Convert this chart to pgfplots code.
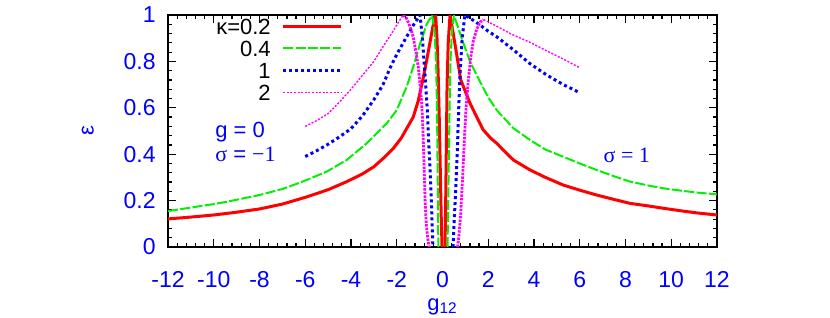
\documentclass[border=0pt]{standalone}
\usepackage{fontspec}
\setmainfont{Liberation Sans}
\newfontfamily\serif{Liberation Serif}
\usepackage{pgfplots}
\pgfplotsset{compat=1.18}
\definecolor{cblue}{RGB}{0,0,255}
\definecolor{cred}{RGB}{255,0,0}
\definecolor{cgreen}{RGB}{0,240,0}
\definecolor{cmag}{RGB}{255,0,255}
\begin{document}
\fontsize{11}{13}\selectfont
\begin{tikzpicture}
\path[use as bounding box] (-84pt,-35pt) rectangle (331pt,123.5pt);
\begin{axis}[
  scale only axis, width=274.5pt, height=116pt,
  at={(0,0)}, anchor=south west,
  xmin=-12, xmax=12, ymin=0, ymax=1,
  xtick={-12,-10,...,12},
  xticklabels={-12,-10,-8,-6,-4,-2,0,2,4,6,8,10,12},
  ytick={0,0.2,0.4,0.6,0.8,1},
  yticklabels={0,0.2,0.4,0.6,0.8,1},
  minor x tick num=4, minor y tick num=4,
  tick align=inside,
  major tick length=4pt, minor tick length=2pt,
  tick style={black, line width=0.6pt},
  axis line style={black, line width=0.75pt},
  tick label style={text=cblue, font=\fontsize{11.5}{13}\selectfont},
  xticklabel style={anchor=north, inner sep=0pt, yshift=-12pt},
  yticklabel style={anchor=east, inner sep=0pt, xshift=-6pt},
  xlabel={g\textsubscript{12}}, ylabel={ε},
  every axis x label/.style={at={(axis description cs:0.5,0)}, anchor=base, yshift=-31.5pt, text=cblue},
  every axis y label/.style={at={(axis description cs:-0.146,0.5)}, anchor=center, rotate=90, text=cblue},
  legend cell align=right, legend plot pos=right,
  legend image code/.code={\draw[#1] (0pt,0pt) -- (29pt,0pt);},
  legend style={at={(rel axis cs:0.319,1)}, anchor=north east, draw=none, fill=none,
    inner sep=0pt, row sep=0pt, column sep=4pt,
    nodes={inner sep=1.5pt, text height=8pt, text depth=0pt, font=\fontsize{11}{13}\selectfont}},
]
% kappa = 0.2
\addplot[cred, line width=1.5pt] coordinates {
(-12,0.121) (-11,0.129) (-10,0.138) (-9,0.150) (-8,0.164) (-7,0.185) (-6,0.214) (-5,0.247)
(-4.2,0.281) (-3.5,0.315) (-3,0.346) (-2.5,0.39) (-2.15,0.425) (-1.8,0.47) (-1.57,0.51)
(-1.28,0.56) (-1.06,0.63) (-0.84,0.73) (-0.7,0.8) (-0.55,0.88) (-0.42,0.95) (-0.3,1.0)
(-0.24,0.9) (-0.19,0.75) (-0.14,0.55) (-0.1,0.35) (-0.06,0.15) (-0.02,0)};
\addlegendentry{κ=0.2}
\addplot[cred, line width=1.5pt, forget plot] coordinates {
(0.11,0) (0.14,0.2) (0.17,0.45) (0.2,0.7) (0.25,0.88) (0.33,1.0) (0.47,0.92) (0.62,0.83)
(0.8,0.72) (1.0,0.67) (1.2,0.62) (1.5,0.56) (1.78,0.505) (2.1,0.47) (2.37,0.447) (2.8,0.404)
(3.1,0.375) (3.83,0.332) (4.5,0.30) (5.28,0.267) (6.0,0.245) (6.74,0.224) (7.5,0.205)
(8.2,0.188) (9.0,0.177) (9.65,0.167) (10.5,0.155) (11.2,0.146) (12,0.138)};
% kappa = 0.4
\addplot[cgreen, line width=1pt, dash pattern=on 5pt off 1.2pt] coordinates {
(-12,0.155) (-11,0.17) (-10,0.185) (-9.43,0.195) (-8,0.224) (-7,0.25) (-6.52,0.267)
(-5.94,0.289) (-5.06,0.325) (-4.19,0.375) (-3.31,0.447) (-2.44,0.533) (-2,0.59) (-1.57,0.69)
(-1.3,0.77) (-1.0,0.87) (-0.69,0.96) (-0.45,1.0) (-0.35,0.93) (-0.28,0.8) (-0.24,0.6)
(-0.22,0.4) (-0.2,0.2) (-0.18,0)};
\addlegendentry{0.4}
\addplot[cgreen, line width=1pt, dash pattern=on 5pt off 1.2pt, forget plot] coordinates {
(0.22,0) (0.25,0.2) (0.28,0.4) (0.31,0.6) (0.35,0.8) (0.41,0.93) (0.5,1.0) (0.84,0.9)
(1.2,0.8) (1.64,0.713) (2.0,0.645) (2.37,0.59) (3.1,0.512) (3.83,0.461) (4.5,0.42)
(5.28,0.389) (6.0,0.36) (6.74,0.332) (7.5,0.305) (8.2,0.282) (9.0,0.265) (9.65,0.253)
(10.5,0.242) (11.2,0.234) (12,0.227)};
% kappa = 1
\addplot[cblue, line width=1.5pt, dash pattern=on 1.5pt off 1.5pt] coordinates {
(-6,0.39) (-5.5,0.415) (-5,0.443) (-4.5,0.475) (-4,0.51) (-3.5,0.565) (-3,0.635) (-2.6,0.70)
(-2.3,0.77) (-2,0.83) (-1.57,0.906) (-1.25,0.96) (-0.98,1.0) (-0.88,0.9) (-0.77,0.75)
(-0.67,0.6) (-0.6,0.45) (-0.53,0.3) (-0.47,0.15) (-0.42,0)};
\addlegendentry{1}
\addplot[cblue, line width=1.5pt, dash pattern=on 1.5pt off 1.5pt, forget plot] coordinates {
(0.46,0) (0.53,0.15) (0.6,0.3) (0.66,0.45) (0.71,0.6) (0.77,0.75) (0.86,0.9) (0.98,1.0)
(1.3,0.98) (1.64,0.957) (2.0,0.93) (2.37,0.906) (3.1,0.85) (3.83,0.79) (4.56,0.741)
(5.28,0.70) (6,0.665)};
% kappa = 2
\addplot[cmag, line width=0.7pt, dash pattern=on 1pt off 0.8pt] coordinates {
(-6,0.52) (-5.5,0.545) (-5,0.575) (-4.5,0.625) (-4,0.68) (-3.5,0.74) (-3,0.80) (-2.59,0.865)
(-2.2,0.925) (-1.95,0.965) (-1.72,1.0)};
\addlegendentry{2}
\addplot[cmag, line width=1.4pt, dash pattern=on 1.2pt off 0.6pt, forget plot] coordinates {
(-1.72,1.0) (-1.57,0.985) (-1.42,0.95) (-1.28,0.906) (-1.16,0.84) (-1.06,0.777) (-0.98,0.7)
(-0.91,0.62) (-0.86,0.52) (-0.82,0.4) (-0.79,0.3) (-0.76,0.2) (-0.71,0.1) (-0.65,0.04) (-0.58,0)};
\addplot[cmag, line width=1.4pt, dash pattern=on 1.2pt off 0.6pt, forget plot] coordinates {
(0.66,0) (0.72,0.05) (0.8,0.15) (0.88,0.3) (0.95,0.45) (1.03,0.6) (1.13,0.72) (1.24,0.82)
(1.35,0.89) (1.5,0.94) (1.65,0.97) (1.8,0.98)};
\addplot[cmag, line width=0.7pt, dash pattern=on 1pt off 0.8pt, forget plot] coordinates {
(1.8,0.98) (2.5,0.945) (3,0.918) (3.83,0.882) (4.5,0.848) (5.28,0.81) (6,0.773)};
\node[anchor=base west, inner sep=0pt, text=cblue] at (axis cs:-9.95,0.47) {g = 0};
\node[anchor=base west, inner sep=0pt, text=cblue] at (axis cs:-9.95,0.368) {{\serif σ} = {\serif −1}};
\node[anchor=base west, inner sep=0pt, text=cblue] at (axis cs:7.03,0.365) {\serif σ = 1};
\end{axis}
\end{tikzpicture}
\end{document}
